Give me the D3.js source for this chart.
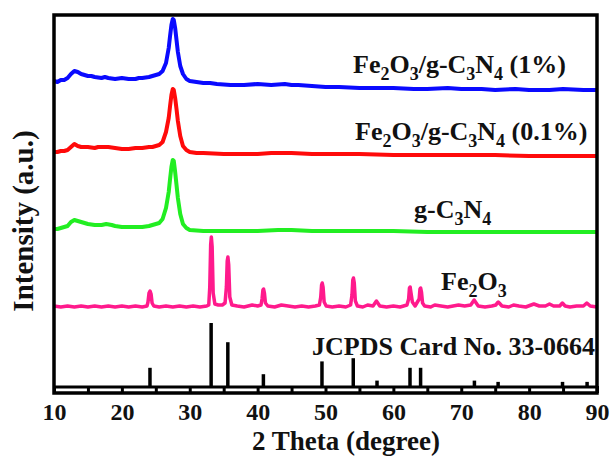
<!DOCTYPE html>
<html>
<head>
<meta charset="utf-8">
<script src="https://cdn.jsdelivr.net/npm/d3@7"></script>
<style>
body { margin: 0; background: #fff; }
text { font-family: "Liberation Serif", "Times New Roman", serif; font-weight: bold; fill: #111; }
</style>
</head>
<body>
<div id="chart"></div>
<script>
//x range of the scan and the tick labels
var thetaMin = 10;
var thetaMax = 90;
var tickLabels = [10, 20, 30, 40, 50, 60, 70, 80, 90];
var minorTicks = [15, 25, 35, 45, 55, 65, 75, 85];

//series names, colours and vertical stacking offsets (a.u.)
var seriesNames = ["Fe2O3/g-C3N4 (1%)", "Fe2O3/g-C3N4 (0.1%)", "g-C3N4", "Fe2O3"];
var seriesColors = ["#0a0aff", "#ff0a0a", "#22ee22", "#ff1a8c"];
var stackOffsets = [303, 237, 161, 86];

//measured patterns, [2theta, intensity]
var pcn1 = [[10,9],[10.5,8],[11,10],[11.5,10],[12,12],[12.5,16],[13,19],[13.5,18],[14,16],[14.5,15],[15,14],[15.5,14],[16,13],[17,12],[17.5,13],[18,12],[19,11],[20,12],[21,11],[22,11],[22.5,12],[23,12],[24,13],[24.5,14],[25,15],[25.5,16],[26,19],[26.5,27],[26.9,42],[27.1,54],[27.3,65],[27.5,71],[27.65,70],[27.85,62],[28.05,50],[28.25,38],[28.6,24],[29,16],[29.5,11],[30,9],[31,8],[32,7],[33,7],[34,6],[36,5],[38,5],[40,6],[42,5],[44,6],[45,5],[46,5],[48,4],[50,3],[52,3],[55,2],[58,2],[60,2],[63,1],[65,1],[68,2],[70,1],[73,1],[75,0],[78,1],[80,0],[83,0],[85,1],[88,0],[90,0]];
var pcn01 = [[10,4],[10.5,4],[11,5],[11.5,5],[12,6],[12.5,9],[13,12],[13.5,10],[14,9],[15,9],[16,8],[16.5,9],[17,9],[18,9],[19,8],[20,7],[21,7],[22,8],[23,8],[24,9],[24.5,9],[25,10],[25.5,11],[26,14],[26.5,24],[26.9,38],[27.1,50],[27.3,61],[27.5,67],[27.65,66],[27.85,58],[28.05,47],[28.25,35],[28.6,20],[29,10],[29.5,6],[30,4],[31,3],[32,3],[35,2],[38,2],[40,2],[42,3],[45,3],[48,2],[50,2],[55,2],[60,1],[65,1],[70,1],[75,1],[80,0],[85,0],[90,0]];
var gcn = [[10,3],[10.5,3],[11,4],[11.5,5],[12,6],[12.5,10],[13,12],[13.5,11],[14,10],[14.5,9],[15,8],[16,7],[17,7],[17.7,8],[18.5,7],[19,6],[20,5],[21,5],[22,5],[23,5],[24,6],[24.5,7],[25,8],[25.5,9],[26,13],[26.5,24],[26.9,40],[27.1,53],[27.3,65],[27.5,72],[27.65,71],[27.85,60],[28.05,47],[28.25,34],[28.6,18],[29,8],[29.5,4],[30,2],[32,1],[35,1],[38,1],[40,1],[43,2],[45,2],[48,1],[50,1],[55,1],[60,1],[65,0],[70,0],[75,0],[80,0],[85,0],[90,0]];
var hematite = [[10,1],[11,0],[12,1],[13,0],[14,1],[15,0],[16,1],[17,0],[18,1],[19,0],[20,1],[21,0],[22,1],[23,0],[23.7,1],
  [23.85,5],[24.0,14],[24.15,16],[24.3,13],[24.45,4],[24.7,1],
  [25.5,0],[26.5,1],[27.5,0],[28.5,1],[29.5,0],[30.5,1],[31.5,0],[32.5,1],[32.8,2],
  [32.95,20],[33.08,62],[33.18,70],[33.3,60],[33.45,14],[33.7,3],[34.2,2],[34.8,2],[35.2,4],
  [35.4,20],[35.52,46],[35.62,50],[35.74,42],[35.9,10],[36.2,2],
  [37,1],[38,0],[39.2,2],[40,1],[40.5,2],
  [40.65,8],[40.78,17],[40.88,18],[41.0,14],[41.15,4],[41.5,1],
  [42.5,0],[43.5,2],[44.5,1],[45.5,0],[46.5,1],[47.5,0],[48.5,1],[49.1,2],
  [49.3,10],[49.42,22],[49.52,24],[49.64,20],[49.8,5],[50.1,1],
  [51,0],[52,1],[53,0],[53.7,2],
  [53.9,12],[54.02,27],[54.12,29],[54.24,24],[54.4,6],[54.7,1],
  [55.5,0],[56.2,2],[57,1],[57.3,4],[57.5,6],[57.7,4],[58,1],
  [59,0],[60,1],[61,0],[62,2],
  [62.25,8],[62.37,19],[62.47,20],[62.6,14],[62.8,5],[63.2,1],
  [63.8,8],[63.92,18],[64.02,19],[64.14,15],[64.3,4],[64.6,1],
  [65.5,0],[66.1,2],[67,1],[68,0],[69.6,2],[70.5,1],[71.4,2],
  [71.7,5],[71.9,7],[72.1,5],[72.5,1],
  [73.5,0],[74.5,1],[75.1,2],[75.3,4],[75.45,5],[75.6,4],[76,1],
  [77,0],[77.7,2],[78.5,1],[79.5,0],[80.7,3],[81.5,1],[82.4,1],[83,3],[83.6,1],[84.5,1],[84.9,4],[85.3,1],[86,0],[87,1],[88,1],[88.5,4],[89,1],[90,0]];

//standard card 33-0664
var cardAngles = [24.14, 33.15, 35.61, 40.85, 49.48, 54.09, 57.59, 62.45, 64.01, 71.94, 75.43, 84.92, 88.54];
var cardIntensity = [30, 100, 70, 20, 40, 45, 10, 30, 30, 10, 8, 8, 8];
var cardOffset = 6;
var cardLabel = "JCPDS Card No. 33-0664";

var patterns = [pcn1, pcn01, gcn, hematite];

var width = 614;
var height = 457;
//plot box (not "top"/"left": those clash with window globals)
var plotLeft = 54, plotRight = 597, plotTop = 15, plotBottom = 393;

var svg = d3.select("#chart").append("svg")
.attr("width", width)
.attr("height", height);

var x = d3.scaleLinear().domain([thetaMin, thetaMax]).range([plotLeft, plotRight]);
var y = d3.scaleLinear().domain([0, plotBottom - plotTop]).range([plotBottom, plotTop]);
//card bars use a 0-100 relative scale
var cardScale = d3.scaleLinear().domain([0, 100]).range([0, 64]);

//draw the stacked patterns
patterns.forEach(function(p, i) {
	var line = d3.line()
	.x(function(d){ return x(d[0]); })
	.y(function(d){ return y(stackOffsets[i] + d[1]); });
	svg.append("path")
	.datum(p)
	.attr("d", line)
	.style("fill", "none")
	.style("stroke", seriesColors[i])
	.style("stroke-width", i == 3 ? 3.5 : 4)
	.style("stroke-linejoin", "round");
});

//card baseline and sticks
svg.append("line")
.attr("x1", plotLeft).attr("x2", plotRight)
.attr("y1", y(cardOffset)).attr("y2", y(cardOffset))
.style("stroke", "#000")
.style("stroke-width", 3);

svg.selectAll(".stick")
.data(cardAngles)
.enter().append("line")
.attr("class", "stick")
.attr("x1", function(d){ return x(d); })
.attr("x2", function(d){ return x(d); })
.attr("y1", y(cardOffset))
.attr("y2", function(d, i){ return y(cardOffset) - cardScale(cardIntensity[i]); })
.style("stroke", "#000")
.style("stroke-width", 3.5);

//bottom axis, ticks point up into the plot
var xAxis = d3.axisBottom(x)
.tickValues(tickLabels.concat(minorTicks).sort(d3.ascending))
.tickSize(-7)
.tickPadding(10)
.tickFormat(function(d){ return tickLabels.indexOf(d) >= 0 ? d : ""; });

var gx = svg.append("g")
.attr("transform", "translate(0," + plotBottom + ")")
.call(xAxis);
gx.select(".domain").remove();
gx.selectAll("line").style("stroke", "#000").style("stroke-width", 3);
gx.selectAll("text")
.style("font-size", "24px")
.style("font-family", "Liberation Serif")
.style("font-weight", "bold")
.style("fill", "#111");

//frame
svg.append("rect")
.attr("x", plotLeft).attr("y", plotTop)
.attr("width", plotRight - plotLeft).attr("height", plotBottom - plotTop)
.style("fill", "none")
.style("stroke", "#000")
.style("stroke-width", 3.5);

//labels with subscripts, split into [text, isSub] parts
function chem(str) {
	var parts = [];
	str.split(/(\d)/).forEach(function(s, k) {
		if (s == "") return;
		parts.push([s, k % 2 == 1]);
	});
	return parts;
}

var labelPos = [[353, 73], [355, 140], [414, 218], [441, 290]];

seriesNames.forEach(function(name, i) {
	var t = svg.append("text")
	.attr("x", labelPos[i][0])
	.attr("y", labelPos[i][1])
	.style("font-size", "26px");
	//keep percentages whole
	var head = name.split(" (");
	var parts = chem(head[0]);
	var prevSub = false;
	parts.forEach(function(p) {
		var dy = (p[1] && !prevSub) ? 7 : (!p[1] && prevSub ? -7 : 0);
		t.append("tspan")
		.attr("dy", dy)
		.style("font-size", p[1] ? "18px" : "26px")
		.text(p[0]);
		prevSub = p[1];
	});
	if (head.length > 1) {
		t.append("tspan")
		.attr("dy", prevSub ? -7 : 0)
		.text(" (" + head[1]);
	}
});

svg.append("text")
.attr("x", 312)
.attr("y", 355)
.style("font-size", "26px")
.text(cardLabel);

//axis titles
svg.append("text")
.attr("x", 346)
.attr("y", 450)
.attr("text-anchor", "middle")
.style("font-size", "27px")
.text("2 Theta (degree)");

svg.append("text")
.attr("transform", "translate(33,221) rotate(-90)")
.attr("text-anchor", "middle")
.style("font-size", "29px")
.text("Intensity (a.u.)");
</script>
</body>
</html>
